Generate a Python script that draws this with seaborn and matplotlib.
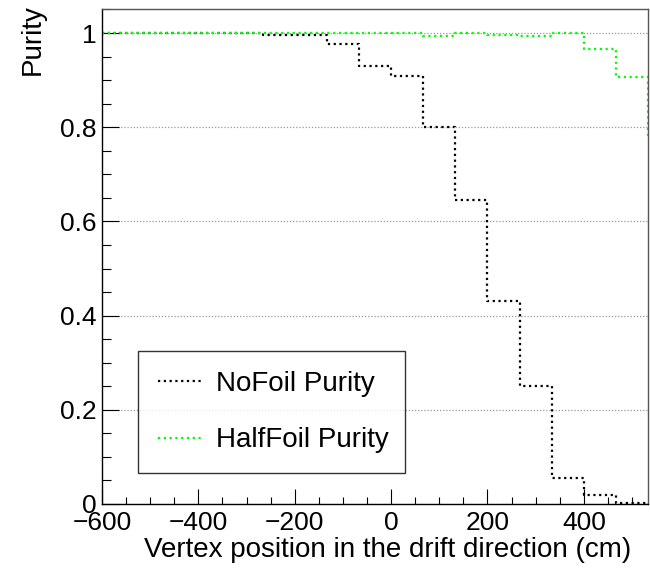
import numpy as np
import pandas as pd
import matplotlib
matplotlib.use("Agg")
import matplotlib.pyplot as plt
import seaborn as sns
from matplotlib.ticker import MultipleLocator

sns.set_style("ticks")
matplotlib.rcParams['font.family'] = ["Liberation Sans", "DejaVu Sans"]
matplotlib.rcParams['text.color'] = "black"
matplotlib.rcParams['axes.labelcolor'] = "black"
matplotlib.rcParams['xtick.color'] = "black"
matplotlib.rcParams['ytick.color'] = "black"

# %% data (bin width 200/3 cm)
binEdges = [-600, -533.33, -466.67, -400, -333.33, -266.67, -200, -133.33, -66.67,
            0, 66.67, 133.33, 200, 266.67, 333.33, 400, 466.67, 533.33, 600]

noFoil   = [1.0, 1.0, 1.0, 1.0, 1.0, 0.995, 0.995, 0.977, 0.930,
            0.909, 0.800, 0.645, 0.431, 0.251, 0.055, 0.019, 0.003, 0.0]
halfFoil = [1.0, 1.0, 1.0, 1.0, 1.0, 1.0, 1.0, 1.0, 1.0,
            1.0, 0.993, 1.0, 0.995, 0.993, 1.0, 0.966, 0.906, 0.777]

yTicks      = [0, 0.2, 0.4, 0.6, 0.8, 1.0]
yTickLabels = ["0", "0.2", "0.4", "0.6", "0.8", "1"]

# %%
centres = [(a + b) / 2 for a, b in zip(binEdges[:-1], binEdges[1:])]
df = pd.DataFrame({"centre": centres, "NoFoil": noFoil, "HalfFoil": halfFoil})

fig = plt.figure(figsize=(6.5, 5.68), dpi=100)
ax = fig.add_axes([0.157, 0.1127, 0.84, 0.8706])

dotted = (0, (1, 1.6))
sns.histplot(data=df, x="centre", weights="NoFoil", bins=binEdges, element="step",
             fill=False, color="black", linewidth=1.6, linestyle=dotted, ax=ax,
             label="NoFoil Purity")
sns.histplot(data=df, x="centre", weights="HalfFoil", bins=binEdges, element="step",
             fill=False, color="#00ff00", linewidth=1.6, linestyle=dotted, ax=ax,
             label="HalfFoil Purity")

ax.set_xlim(-600, 533.33)
ax.set_ylim(0, 1.05)

ax.set_yticks(yTicks)
ax.set_yticklabels(yTickLabels)
ax.xaxis.set_major_locator(MultipleLocator(200))
ax.xaxis.set_minor_locator(MultipleLocator(50))
ax.yaxis.set_minor_locator(MultipleLocator(0.05))

ax.tick_params(which="both", direction="in", top=False, right=False, labelsize=19,
               labelcolor="black")
ax.tick_params("y", which="major", length=12, width=0.8, pad=4)
ax.tick_params("y", which="minor", length=6.5, width=0.8)
ax.tick_params("x", which="major", length=10.5, width=0.8, pad=5)
ax.tick_params("x", which="minor", length=5, width=0.8)

ax.yaxis.grid(True, linestyle=(0, (1, 1.5)), color="#999999", linewidth=0.9)
ax.set_axisbelow(True)

for side, s in ax.spines.items():
    s.set_linewidth(1.0)
    s.set_color("black" if side in ("left", "bottom") else "#555555")

ax.set_xlabel("Vertex position in the drift direction (cm)", fontsize=20, loc="right",
              color="black")
ax.xaxis.set_label_coords(0.97, -0.066)
ax.set_ylabel("Purity", fontsize=20, loc="top", color="black")
ax.yaxis.set_label_coords(-0.104, 1.01)

leg = ax.legend(loc="lower left", bbox_to_anchor=(0.066, 0.063, 0.489, 0.257),
                mode="expand", fontsize=20, frameon=True, fancybox=False,
                edgecolor="black", handlelength=1.6, handletextpad=0.5,
                labelspacing=1.1, borderpad=0.7, borderaxespad=0)
leg.get_frame().set_linewidth(1.0)
for t in leg.get_texts():
    t.set_color("black")

plt.savefig("out.png", dpi=100)
